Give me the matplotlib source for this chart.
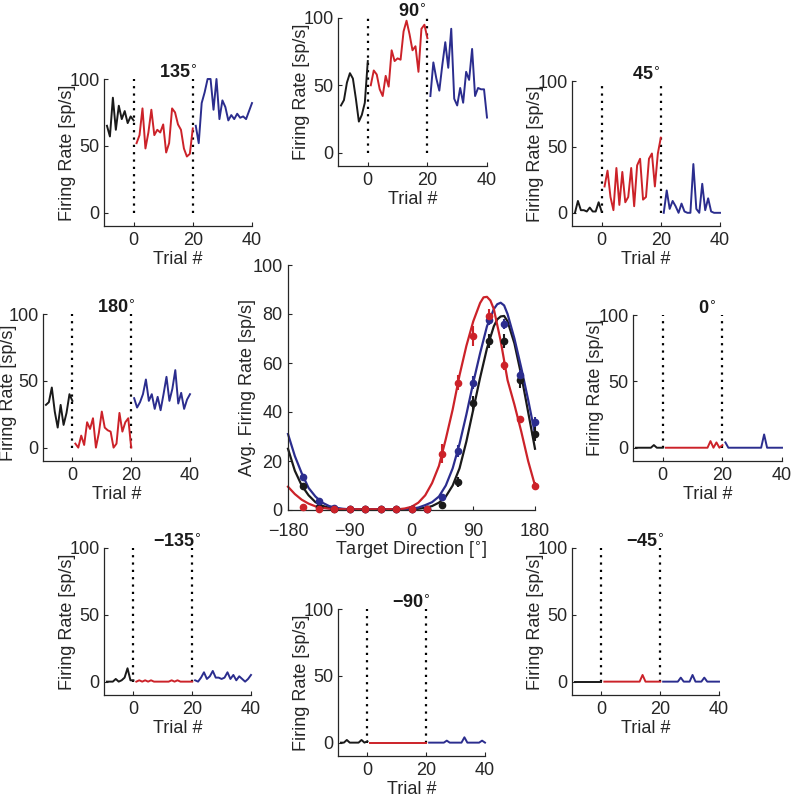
import matplotlib
matplotlib.use('Agg')
import matplotlib.pyplot as plt

plt.rcParams['font.family'] = ['Liberation Sans', 'DejaVu Sans']
plt.rcParams['axes.unicode_minus'] = True

# ---------------- data ----------------
trials_pre = [-9, -8, -7, -6, -5, -4, -3, -2, -1, 0]
trials_learn = list(range(1, 21))
trials_post = list(range(21, 41))
block_edges = [0, 20]

pre_135 = [65, 57, 86, 62, 80, 70, 76, 67, 72, 69]
learn_135 = [52, 58, 78, 48, 60, 77, 58, 62, 60, 66, 45, 52, 78, 75, 66, 62, 48, 42, 44, 63]
post_135 = [65, 52, 82, 90, 100, 100, 77, 100, 70, 84, 79, 69, 73, 70, 74, 71, 72, 70, 76, 82]

pre_90 = [35, 39, 52, 59, 55, 40, 23, 28, 37, 68]
learn_90 = [50, 61, 58, 47, 42, 57, 49, 76, 68, 70, 69, 90, 98, 88, 76, 79, 60, 92, 95, 85]
post_90 = [42, 67, 55, 46, 65, 82, 63, 92, 40, 35, 48, 37, 60, 54, 77, 42, 48, 47, 47, 26]

pre_45 = [0, 9, 2, 2, 1, 4, 1, 1, 8, 1]
learn_45 = [20, 32, 12, 2, 34, 6, 31, 8, 12, 34, 5, 36, 41, 10, 12, 41, 45, 20, 45, 57]
post_45 = [0, 17, 3, 9, 5, 0, 7, 1, 0, 0, 37, 3, 0, 22, 2, 11, 1, 0, 0, 0]

pre_180 = [32, 34, 45, 27, 15, 32, 17, 26, 40, 35]
learn_180 = [3, 0, 9, 2, 19, 14, 22, 0, 11, 27, 15, 13, 12, 0, 3, 26, 12, 19, 22, 0]
post_180 = [37, 30, 34, 40, 51, 35, 40, 29, 38, 28, 40, 53, 35, 44, 58, 33, 41, 29, 36, 40]

pre_0 = [0, 0, 0, 0, 0, 0, 2, 0, 0, 0]
learn_0 = [0, 0, 0, 0, 0, 0, 0, 0, 0, 0, 0, 0, 0, 0, 0, 5, 0, 4, 0, 2]
post_0 = [4, 0, 0, 0, 0, 0, 0, 0, 0, 0, 0, 0, 0, 10, 0, 0, 0, 0, 0, 0]

pre_m135 = [0, 0, 0, 2, 0, 1, 3, 10, 1, 1]
learn_m135 = [0, 1, 0, 1, 0, 1, 0, 0, 0, 0, 0, 0, 1, 0, 1, 0, 0, 0, 0, 0]
post_m135 = [1, 0, 3, 7, 2, 4, 8, 3, 3, 2, 3, 7, 2, 5, 1, 4, 2, 0, 2, 5]

pre_m90 = [0, 0, 2, 0, 0, 0, 0, 2, 0, 1]
learn_m90 = [0] * 20
post_m90 = [0, 0, 0, 0, 0, 0, 1.5, 0, 0, 0, 0, 0, 4, 0, 0, 0, 0, 0, 1.5, 0]

pre_m45 = [0] * 10
learn_m45 = [0, 0, 0, 0, 0, 0, 0, 0, 0, 0, 0, 0, 0, 5, 0, 0, 0, 0, 0, 0]
post_m45 = [0, 0, 0, 0, 0, 0, 3, 0, 0, 0, 5, 0, 0, 0, 3, 0, 0, 0, 0, 0]

# tuning data
directions = [-157.5, -135, -112.5, -90, -67.5, -45, -22.5, 0, 22.5, 45, 67.5, 90, 112.5, 135, 157.5, 180]
rate_pre = [10, 1.4, 0.3, 0.3, 0.3, 0.3, 0.3, 0.3, 0.3, 2, 11.5, 43.5, 69, 69, 53, 31]
err_pre = [1, 0.5, 0.3, 0.3, 0.3, 0.3, 0.3, 0.3, 0.3, 1, 2, 3, 3, 3, 3, 3]
rate_learn = [1.4, 0.3, 0.3, 0.3, 0.3, 0.3, 0.3, 0.3, 0.3, 23, 52, 71, 79, 59, 37, 10]
err_learn = [0.8, 0.3, 0.3, 0.3, 0.3, 0.3, 0.3, 0.3, 0.3, 4, 3, 4, 3, 2, 1.5, 1.5]
rate_post = [13.6, 3.8, 1, 0.4, 0.3, 0.3, 0.3, 0.3, 0.3, 5.4, 24, 52, 77.5, 76, 55, 36]
err_post = [1.2, 0.8, 0.4, 0.3, 0.3, 0.3, 0.3, 0.3, 0.3, 1, 2.5, 2.5, 2, 2, 2, 2]

fit_dirs_learn = [-180, -170, -160, -150, -140, -130, -120, -110, -100, -90, -80, -70, -60,
                  -50, -40, -30, -20, -10, 0, 10, 20, 30, 40, 50, 60, 70, 80, 90, 100, 105,
                  110, 115, 120, 130, 140, 150, 160, 170, 180]
fit_learn = [9.5, 6.5, 4.2, 2.6, 1.5, 0.9, 0.5, 0.4, 0.3, 0.3, 0.3, 0.3, 0.3,
             0.3, 0.3, 0.3, 0.3, 0.6, 1.3, 3, 6, 11, 18, 29, 41, 55, 67, 77, 84.5, 86.8,
             87, 85.5, 82, 69, 53, 43, 32, 20, 10]
fit_dirs_post = [-180, -170, -160, -150, -140, -130, -120, -110, -100, -90, -80, -70, -60,
                 -50, -40, -30, -20, -10, 0, 10, 20, 30, 40, 50, 60, 70, 80, 90, 100, 110,
                 120, 125, 130, 135, 140, 150, 160, 170, 180]
fit_post = [31, 22, 15, 9, 5.5, 3, 1.6, 0.9, 0.5, 0.3, 0.3, 0.3, 0.3,
            0.3, 0.3, 0.3, 0.3, 0.3, 0.5, 1, 2, 3.2, 5.5, 10, 17, 27, 39, 52, 64, 75,
            82, 84, 84.6, 83.5, 80, 70, 58, 45, 31]
fit_dirs_pre = [-180, -170, -160, -150, -140, -130, -120, -110, -100, -90, -80, -70, -60,
                -50, -40, -30, -20, -10, 0, 10, 20, 30, 40, 50, 60, 70, 80, 90, 100, 110,
                120, 125, 130, 135, 140, 150, 160, 170, 180]
fit_pre = [25, 16, 10, 6, 3.2, 1.7, 0.9, 0.5, 0.3, 0.3, 0.3, 0.3, 0.3, 0.3,
           0.3, 0.3, 0.3, 0.3, 0.3, 0.5, 0.9, 1.6, 3, 5.5, 10, 17, 28, 41, 54, 66,
           75, 77.8, 79, 79.2, 77, 68, 55, 40, 25]

# ---------------- style ----------------
BLACK = '#1a1a1a'
RED = '#cc2229'
BLUE = '#2b2d8e'
AXC = '#262626'
FS = 13

W, H = 792, 799
fig = plt.figure(figsize=(7.92, 7.99), dpi=100)


def rect(l, t, r, b):
    return [l / W, 1 - b / H, (r - l) / W, (b - t) / H]


def style(ax, xpad=4, ypad=3):
    for s in ['top', 'right']:
        ax.spines[s].set_visible(False)
    for s in ['left', 'bottom']:
        ax.spines[s].set_color(AXC)
        ax.spines[s].set_linewidth(0.9)
    ax.tick_params(direction='in', length=3, width=0.8, colors=AXC,
                   labelsize=FS, labelcolor=AXC)
    ax.tick_params(axis='x', pad=xpad)
    ax.tick_params(axis='y', pad=ypad)


def trial_panel(box, title, pre, learn, post, ylab_px=37, ylab_shift=0):
    ax = fig.add_axes(rect(*box))
    w = box[2] - box[0]
    h = box[3] - box[1]
    for xv in block_edges:
        ax.plot([xv, xv], [0, 100], color='k', lw=1.6, ls=(0, (1, 2.3)))
    ax.plot(trials_pre, pre, color=BLACK, lw=1.4, clip_on=False)
    ax.plot(trials_learn, learn, color=RED, lw=1.4, clip_on=False)
    ax.plot(trials_post, post, color=BLUE, lw=1.4, clip_on=False)
    ax.set_xlim(-10, 40)
    ax.set_ylim(-10, 100)
    ax.set_xticks([0, 20, 40])
    ax.set_yticks([0, 50, 100])
    style(ax)
    ax.set_xlabel('Trial #', fontsize=FS, labelpad=2, color=AXC)
    ax.set_ylabel('Firing Rate [sp/s]', fontsize=FS, color=AXC, va='center')
    ax.yaxis.set_label_coords(-ylab_px / w, 0.5 - ylab_shift / h)
    ax.text(0.5, 1.01, title, transform=ax.transAxes, ha='center', va='baseline',
            fontsize=FS, fontweight='bold', color=BLACK)
    return ax


trial_panel((104, 79, 252, 226), '135$^{\\circ}$', pre_135, learn_135, post_135)
trial_panel((338, 18, 487, 166), '90$^{\\circ}$', pre_90, learn_90, post_90)
trial_panel((572, 81, 720, 226), '45$^{\\circ}$', pre_45, learn_45, post_45)
trial_panel((43, 314, 190, 461), '180$^{\\circ}$', pre_180, learn_180, post_180,
            ylab_px=34, ylab_shift=5)
trial_panel((633, 315, 782, 461), '0$^{\\circ}$', pre_0, learn_0, post_0)
trial_panel((104, 548, 251, 695), '\u2212135$^{\\circ}$', pre_m135, learn_m135, post_m135)
trial_panel((338, 609, 485, 756), '\u221290$^{\\circ}$', pre_m90, learn_m90, post_m90)
trial_panel((572, 548, 719, 695), '\u221245$^{\\circ}$', pre_m45, learn_m45, post_m45)

# ---------------- center tuning panel ----------------
ax = fig.add_axes(rect(288, 265, 535, 510))
ax.plot(fit_dirs_pre, fit_pre, color=BLACK, lw=1.6, clip_on=False)
ax.plot(fit_dirs_post, fit_post, color=BLUE, lw=1.6, clip_on=False)
ax.plot(fit_dirs_learn, fit_learn, color=RED, lw=1.6, clip_on=False)
for rates, errs, col in [(rate_pre, err_pre, BLACK), (rate_post, err_post, BLUE),
                         (rate_learn, err_learn, RED)]:
    ax.errorbar(directions, rates, yerr=errs, fmt='o', color=col, ms=4.5,
                elinewidth=1.5, capsize=0, clip_on=False, zorder=3)
ax.set_xlim(-180, 180)
ax.set_ylim(0, 100)
ax.set_xticks([-180, -90, 0, 90, 180])
ax.set_yticks([0, 20, 40, 60, 80, 100])
style(ax, xpad=9, ypad=4)
ax.set_xlabel('Target Direction [$^{\\circ}$]', fontsize=FS, labelpad=0, color=AXC)
ax.set_ylabel('Avg. Firing Rate [sp/s]', fontsize=FS, color=AXC, va='center')
ax.yaxis.set_label_coords(-40 / 247, 0.5)

fig.savefig('out.png', dpi=100)
